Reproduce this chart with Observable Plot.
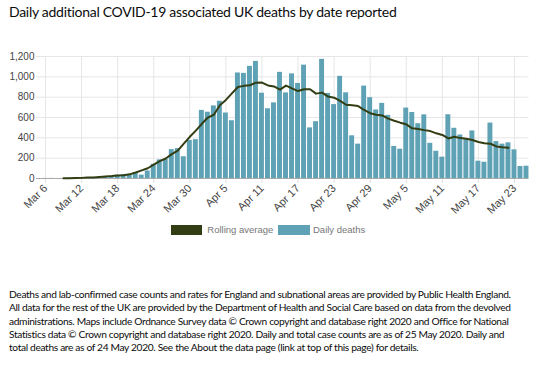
<!DOCTYPE html>
<html><head><meta charset="utf-8">
<script src="https://cdn.jsdelivr.net/npm/d3@7"></script>
<script src="https://cdn.jsdelivr.net/npm/@observablehq/plot@0.6"></script>
<style>
body{margin:0;background:#fff;width:550px;height:371px;position:relative;overflow:hidden;font-family:Lato,sans-serif;color:#0b0c0c}
#title{position:absolute;left:9px;top:3px;font-size:14px;line-height:18px;white-space:nowrap}
#chart{position:absolute;left:0;top:40px}
#legend{position:absolute;top:225px;left:0;width:550px;height:12px;font-family:"Liberation Sans",Arial,sans-serif;font-size:9.5px;color:#777}
.sw{position:absolute;top:0;width:31.5px;height:10px}
.lt{position:absolute;top:-1px;line-height:12px;white-space:nowrap}
#caption{position:absolute;left:9px;top:288px;font-size:10.2px;line-height:13.3px;white-space:nowrap}
#caption span{display:inline-block}
</style></head>
<body>
<div id="title"><span id="titleText"></span></div>
<div id="chart"></div>
<div id="legend"></div>
<div id="caption"></div>
<script>
const titleText = "Daily additional COVID-19 associated UK deaths by date reported";
const startDate = "2020-03-06";
const dailyDeaths = [
  1, 1, 0, 1, 2, 3, 2, 10, 11, 14, 20, 16, 33, 40, 33, 56, 33, 74, 140, 183, 186, 284, 294, 214, 374, 382,
  670, 652, 714, 760, 644, 568, 1038, 1034, 1103, 1152, 839, 686, 744, 1044, 842, 1029, 935, 1115, 498, 559,
  1172, 837, 727, 1005, 843, 420, 338, 909, 795, 674,
  739, 621, 315, 288, 693, 649, 539, 626, 346, 268, 210, 627, 494, 428, 384, 468, 170, 160, 545, 363, 338, 351, 282, 118, 121
];
const yTicks = [0, 200, 400, 600, 800, 1000, 1200];
const xTickDates = ["2020-03-06","2020-03-12","2020-03-18","2020-03-24","2020-03-30","2020-04-05","2020-04-11",
  "2020-04-17","2020-04-23","2020-04-29","2020-05-05","2020-05-11","2020-05-17","2020-05-23"];
const xDomain = ["2020-03-04T12:00Z", "2020-05-25T10:00Z"];
const seriesNames = ["Rolling average", "Daily deaths"];
const captionLines = [
  "Deaths and lab-confirmed case counts and rates for England and subnational areas are provided by Public Health England.",
  "All data for the rest of the UK are provided by the Department of Health and Social Care based on data from the devolved",
  "administrations. Maps include Ordnance Survey data © Crown copyright and database right 2020 and Office for National",
  "Statistics data © Crown copyright and database right 2020. Daily and total case counts are as of 25 May 2020. Daily and",
  "total deaths are as of 24 May 2020. See the About the data page (link at top of this page) for details."
];

const lineColor = "#333d13";
const barColor = "#5fa2b5";

function fitWidth(el, target) {
  const w = el.getBoundingClientRect().width;
  const n = Math.max(1, el.textContent.length - 1);
  return (target - w) / n;
}

const tEl = document.getElementById("titleText");
tEl.textContent = titleText;
tEl.style.display = "inline-block";
tEl.style.letterSpacing = fitWidth(tEl, 388) + "px";

const cap = document.getElementById("caption");
const spans = captionLines.map(t => { const d = document.createElement("div"); const s = document.createElement("span"); s.textContent = t; d.appendChild(s); cap.appendChild(d); return s; });
const ls = fitWidth(spans[0], 502);
cap.style.letterSpacing = ls + "px";

const start = new Date(startDate + "T00:00Z");
const dates = d3.utcDay.range(start, d3.utcDay.offset(start, dailyDeaths.length));
const data = dates.map((date, i) => ({date, value: dailyDeaths[i]}));
const tickDates = xTickDates.map(s => new Date(s + "T00:00Z"));
const half = 0.41 * 864e5;

const plot = Plot.plot({
  width: 550, height: 180,
  marginTop: 16, marginBottom: 42, marginLeft: 36, marginRight: 21.5,
  style: {fontFamily: "'Liberation Sans', Arial, sans-serif", fontSize: "10px", background: "transparent", overflow: "visible"},
  x: {type: "utc", domain: xDomain.map(s => new Date(s))},
  y: {domain: [0, 1200]},
  marks: [
    Plot.gridY(yTicks, {stroke: "#e6e6e6", strokeOpacity: 1}),
    Plot.gridX(tickDates, {stroke: "#e6e6e6", strokeOpacity: 1}),
    Plot.axisY(yTicks, {tickSize: 0, tickPadding: 2, tickFormat: d3.format(","), label: null, fill: "#444"}),
    Plot.axisX(tickDates, {tickSize: 5, tickPadding: 3, tickRotate: -45, fontSize: 11, tickFormat: d3.utcFormat("%b %-d"), label: null, stroke: "#e0e0e0", fill: "#444"}),
    Plot.rectY(data, {x1: d => new Date(+d.date - half), x2: d => new Date(+d.date + half), y: "value", fill: barColor}),
    Plot.ruleY([0], {stroke: "#aaa"}),
    Plot.lineY(data, Plot.windowY({k: 7, anchor: "middle", reduce: "mean", strict: true}, {x: "date", y: "value", stroke: lineColor, strokeWidth: 2}))
  ]
});
document.getElementById("chart").appendChild(plot);

const legend = document.getElementById("legend");
const items = [
  {name: seriesNames[0], color: lineColor, sw: 170.7, tx: 207.3},
  {name: seriesNames[1], color: barColor, sw: 278.3, tx: 313}
];
items.forEach(it => {
  const s = document.createElement("div"); s.className = "sw"; s.style.left = it.sw + "px"; s.style.background = it.color; legend.appendChild(s);
  const t = document.createElement("div"); t.className = "lt"; t.style.left = it.tx + "px"; t.textContent = it.name; legend.appendChild(t);
});
</script>
</body></html>
